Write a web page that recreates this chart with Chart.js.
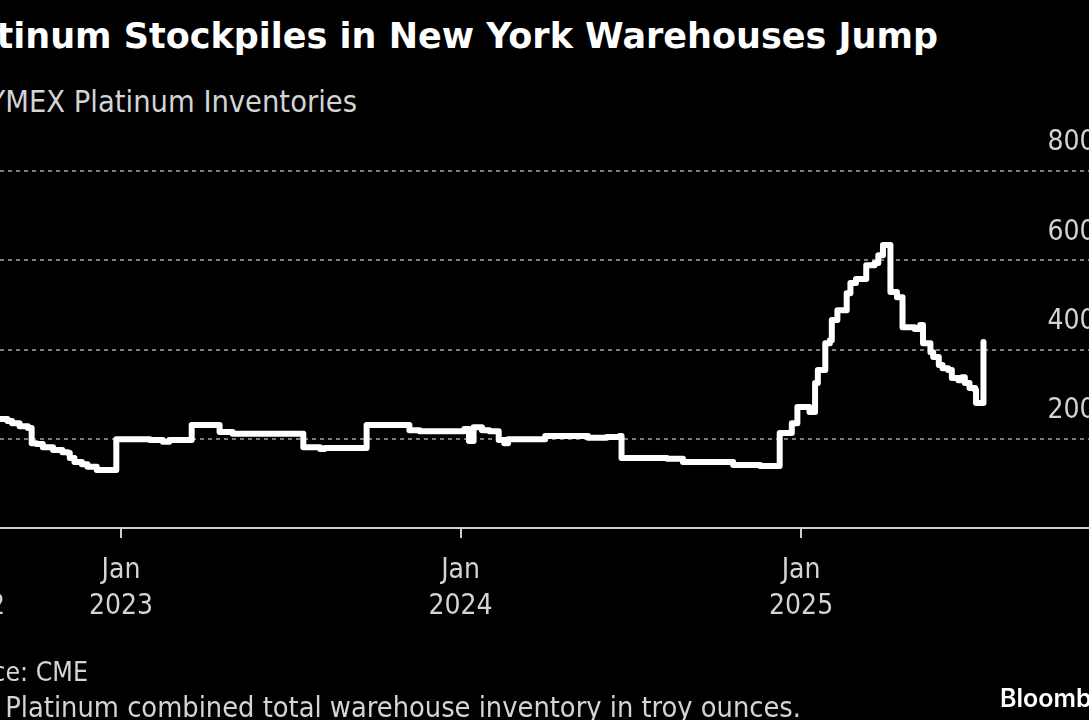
<!DOCTYPE html>
<html>
<head>
<meta charset="utf-8">
<script src="https://cdn.jsdelivr.net/npm/chart.js@4.4.1/dist/chart.umd.min.js"></script>
<style>
  html, body { margin: 0; padding: 0; background: #000; }
  body { width: 1089px; height: 720px; overflow: hidden; position: relative; }
  #chartBox { position: absolute; left: -150px; top: 0; width: 1280px; height: 720px; }
  .txt { position: absolute; white-space: nowrap; line-height: 1; }
  .cond { font-family: "DejaVu Sans Condensed", "DejaVu Sans", sans-serif; font-stretch: condensed; color: #d4d4d4; }
  #title { right: 151px; top: 19px; font-family: "DejaVu Sans", sans-serif; font-weight: bold; font-size: 35px; color: #fff; }
  #subtitle { right: 732px; top: 87px; font-size: 30.5px; }
  #source { right: 1001px; top: 659px; font-size: 26.5px; }
  #note { right: 288px; top: 693px; font-size: 28.7px; }
  #brand { left: 1000px; top: 686px; font-family: Inter, sans-serif; font-weight: 600; font-size: 25px; color: #fff; }
</style>
</head>
<body>
<div id="title" class="txt">Platinum Stockpiles in New York Warehouses Jump</div>
<div id="subtitle" class="txt cond">NYMEX Platinum Inventories</div>
<div id="chartBox"><canvas id="chart" width="1280" height="720"></canvas></div>
<div id="source" class="txt cond">Source: CME</div>
<div id="note" class="txt cond">Note: Platinum combined total warehouse inventory in troy ounces.</div>
<div id="brand" class="txt">Bloomberg</div>
<script>
// dates where the inventory level changes
const dates = [
  '2022-06-20', '2022-09-01', '2022-09-06', '2022-09-14', '2022-09-23', '2022-09-27',
  '2022-10-02', '2022-10-09', '2022-10-20', '2022-10-30', '2022-11-05', '2022-11-07',
  '2022-11-12', '2022-11-20', '2022-11-26', '2022-12-06', '2022-12-27',
  '2023-02-01', '2023-02-15', '2023-02-22', '2023-03-18', '2023-04-17', '2023-05-01',
  '2023-07-16', '2023-08-03', '2023-08-08', '2023-09-22', '2023-11-07', '2023-11-18',
  '2024-01-05', '2024-01-10', '2024-01-15', '2024-01-24', '2024-02-01', '2024-02-11',
  '2024-02-17', '2024-02-21', '2024-04-01', '2024-05-17', '2024-06-06', '2024-06-20',
  '2024-06-22', '2024-08-10', '2024-08-27', '2024-10-20', '2024-11-18', '2024-12-09',
  '2024-12-22', '2024-12-28', '2025-01-10', '2025-01-16', '2025-01-19', '2025-01-27',
  '2025-02-01', '2025-02-03', '2025-02-09', '2025-02-19', '2025-02-23', '2025-03-01',
  '2025-03-12', '2025-03-21', '2025-03-25', '2025-03-30', '2025-04-07', '2025-04-14',
  '2025-04-20', '2025-05-03', '2025-05-09', '2025-05-12', '2025-05-20', '2025-05-23',
  '2025-05-29', '2025-06-02', '2025-06-08', '2025-06-12', '2025-06-19', '2025-06-23',
  '2025-06-26', '2025-07-01', '2025-07-07', '2025-07-08', '2025-07-16'
];

// thousand troy ounces
const inventory = [
  244, 240, 235, 228, 224, 190,
  188, 181, 175, 170, 168, 157,
  148, 143, 137, 130, 199,
  197, 193, 197, 231, 215, 211,
  181, 177, 179, 231, 219, 217,
  222, 195, 226, 219, 217, 197,
  190, 199, 206, 202, 204, 206,
  157, 155, 148, 141, 139, 213,
  235, 271, 260, 325, 354, 414,
  421, 466, 488, 526, 549, 558,
  589, 594, 611, 634, 529, 517,
  450, 446, 455, 414, 394, 383,
  365, 358, 354, 336, 331, 338,
  325, 314, 309, 280, 417
];

const yTicks = [0, 200, 400, 600, 800];
const tickDates = ['2022-07-26', '2023-01-01', '2024-01-01', '2025-01-01'];
const tickMonths = ['Jul', 'Jan', 'Jan', 'Jan'];
const tickYears = ['2022', '2023', '2024', '2025'];

const toTime = s => Date.parse(s + 'T00:00:00Z');
const points = dates.map((d, i) => ({ x: toTime(d), y: inventory[i] }));

const labelFont = { family: '"DejaVu Sans Condensed", "DejaVu Sans", sans-serif', size: 28, lineHeight: 1.286 };

new Chart(document.getElementById('chart'), {
    type: 'line',
    data: {
        datasets: [{
            label: 'NYMEX Platinum Inventories',
            data: points,
            borderColor: '#ffffff',
            borderWidth: 6,
            pointRadius: 0,
            stepped: true,
            borderJoinStyle: 'round',
            borderCapStyle: 'round',
            fill: false
        }]
    },
    options: {
        responsive: false,
        animation: false,
        layout: { padding: { left: 70, right: 20, top: 171, bottom: 82 } },
        plugins: { legend: { display: false }, tooltip: { enabled: false } },
        scales: {
            x: {
                type: 'linear',
                min: toTime('2022-05-30'),
                max: toTime('2025-11-29'),
                afterBuildTicks: scale => { scale.ticks = tickDates.map(d => ({ value: toTime(d) })); },
                afterFit: scale => { scale.height = 110; },
                grid: { display: true, drawOnChartArea: false, drawTicks: true, tickLength: 10, color: '#cfcfcf', lineWidth: 2 },
                border: { display: true, color: '#cfcfcf', width: 2 },
                ticks: {
                    color: '#d4d4d4',
                    font: labelFont,
                    padding: 15,
                    maxRotation: 0,
                    autoSkip: false,
                    callback: value => {
                        const i = tickDates.findIndex(d => toTime(d) === value);
                        return [tickMonths[i], tickYears[i]];
                    }
                }
            },
            y: {
                position: 'right',
                min: 0,
                max: 800,
                afterBuildTicks: scale => { scale.ticks = yTicks.map(v => ({ value: v })); },
                afterFit: scale => { scale.width = 0; },
                grid: {
                    drawTicks: false,
                    lineWidth: 2,
                    color: ctx => (ctx.tick && ctx.tick.value === 0) ? 'rgba(0,0,0,0)' : '#7d7d7d'
                },
                border: { display: false, dash: [4, 4] },
                ticks: {
                    mirror: true,
                    padding: 2,
                    labelOffset: -28,
                    color: '#d4d4d4',
                    font: labelFont,
                    callback: value => value === 0 ? '0' : value + 'K'
                }
            }
        }
    }
});
</script>
</body>
</html>
